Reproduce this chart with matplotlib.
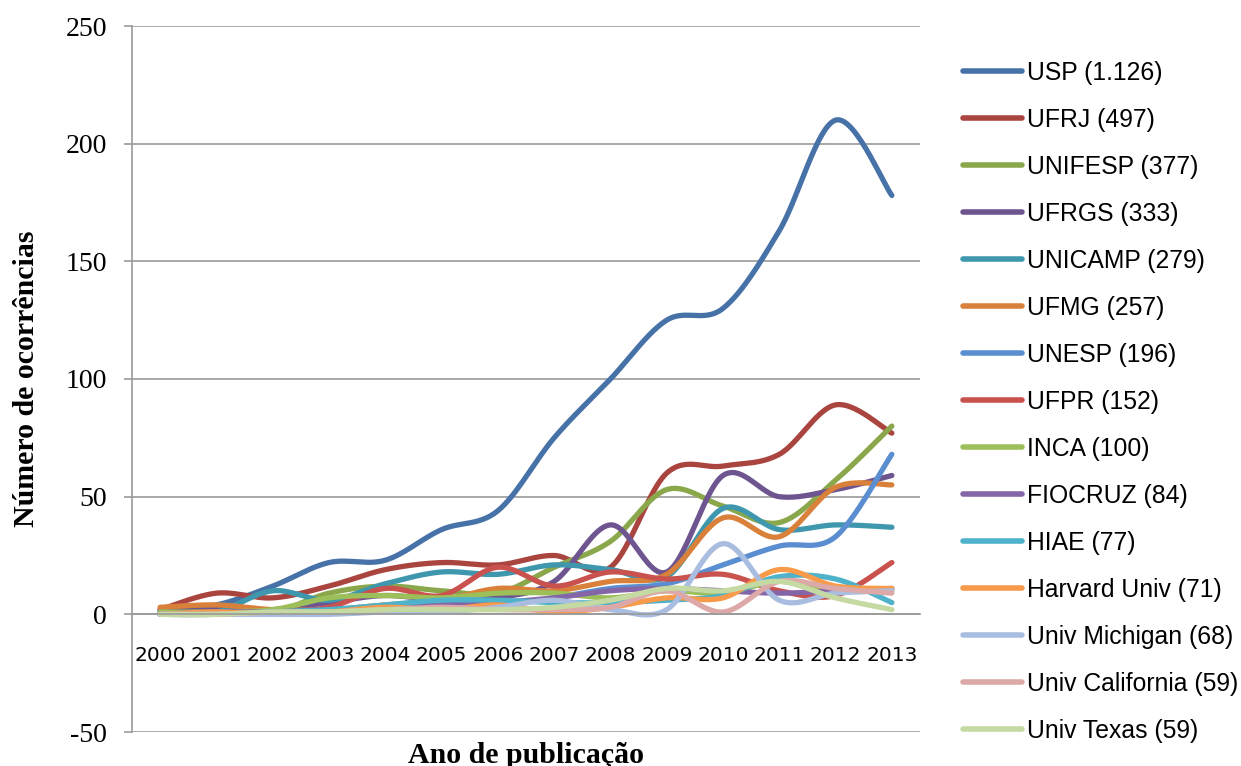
import numpy as np
import matplotlib
matplotlib.use("Agg")
import matplotlib.pyplot as plt

years = ["2000", "2001", "2002", "2003", "2004", "2005", "2006",
         "2007", "2008", "2009", "2010", "2011", "2012", "2013"]

labels = ["USP (1.126)", "UFRJ (497)", "UNIFESP (377)", "UFRGS (333)",
          "UNICAMP (279)", "UFMG (257)", "UNESP (196)", "UFPR (152)",
          "INCA (100)", "FIOCRUZ (84)", "HIAE (77)", "Harvard Univ (71)",
          "Univ Michigan (68)", "Univ California (59)", "Univ Texas (59)"]

usp        = [2, 4, 12, 22, 23, 36, 44, 75, 100, 125, 130, 163, 210, 178]
ufrj       = [2, 9, 7, 12, 19, 22, 21, 25, 20, 60, 63, 68, 89, 77]
unifesp    = [1, 2, 1, 9, 12, 10, 9, 20, 31, 53, 46, 39, 57, 80]
ufrgs      = [1, 2, 2, 5, 8, 6, 7, 14, 38, 18, 59, 50, 53, 59]
unicamp    = [0, 1, 10, 6, 13, 18, 17, 21, 19, 16, 45, 36, 38, 37]
ufmg       = [3, 4, 2, 2, 4, 6, 11, 10, 14, 17, 41, 33, 54, 55]
unesp      = [0, 0, 1, 2, 3, 5, 4, 7, 11, 13, 21, 29, 33, 68]
ufpr       = [0, 1, 1, 3, 11, 8, 20, 12, 18, 15, 17, 10, 8, 22]
inca       = [1, 1, 2, 7, 8, 7, 9, 9, 7, 10, 9, 14, 10, 10]
fiocruz    = [0, 1, 1, 2, 3, 4, 5, 7, 10, 11, 10, 9, 10, 11]
hiae       = [0, 0, 1, 2, 4, 6, 6, 5, 5, 6, 8, 16, 15, 5]
harvard    = [0, 1, 0, 1, 3, 2, 4, 1, 3, 7, 7, 19, 12, 11]
michigan   = [0, 0, 0, 0, 1, 1, 3, 6, 2, 2, 30, 6, 9, 10]
california = [0, 0, 1, 1, 2, 3, 2, 2, 3, 10, 1, 14, 11, 9]
texas      = [0, 0, 1, 1, 2, 2, 2, 3, 6, 11, 10, 14, 7, 2]

series = [usp, ufrj, unifesp, ufrgs, unicamp, ufmg, unesp, ufpr,
          inca, fiocruz, hiae, harvard, michigan, california, texas]

colors = ["#4672A8", "#A9443F", "#8AA84B", "#6F5590", "#3E97AD", "#D9813A",
          "#5A8ED0", "#C9524F", "#9DBF5A", "#8466A8", "#4DB2CA", "#F79A4A",
          "#A9BDE0", "#DDA9A8", "#C5D9A3"]


def smooth(y, n=30):
    """Catmull-Rom smoothing (Excel-style smoothed line) through the points."""
    y = np.asarray(y, dtype=float)
    x = np.arange(len(y), dtype=float)
    px = np.concatenate([[x[0]], x, [x[-1]]])
    py = np.concatenate([[y[0]], y, [y[-1]]])
    xs, ys = [], []
    for i in range(1, len(px) - 2):
        p0x, p1x, p2x, p3x = px[i - 1], px[i], px[i + 1], px[i + 2]
        p0y, p1y, p2y, p3y = py[i - 1], py[i], py[i + 1], py[i + 2]
        t = np.linspace(0, 1, n, endpoint=(i == len(px) - 3))
        c1x = p1x + (p2x - p0x) / 6.0
        c1y = p1y + (p2y - p0y) / 6.0
        c2x = p2x - (p3x - p1x) / 6.0
        c2y = p2y - (p3y - p1y) / 6.0
        bx = ((1 - t) ** 3) * p1x + 3 * ((1 - t) ** 2) * t * c1x + 3 * (1 - t) * t ** 2 * c2x + t ** 3 * p2x
        by = ((1 - t) ** 3) * p1y + 3 * ((1 - t) ** 2) * t * c1y + 3 * (1 - t) * t ** 2 * c2y + t ** 3 * p2y
        xs.append(bx)
        ys.append(by)
    return np.concatenate(xs), np.concatenate(ys)


fig = plt.figure(figsize=(12.41, 7.66), dpi=100)
ax = fig.add_axes([132 / 1241, 1 - 732 / 766, (920 - 132) / 1241, (732 - 26) / 766])

handles = []
for vals, lab, col in zip(series, labels, colors):
    sx, sy = smooth(vals)
    h, = ax.plot(sx, sy, color=col, lw=3.8, solid_capstyle="round", label=lab)
    handles.append(h)

for s in ["top", "right"]:
    ax.spines[s].set_visible(False)
ax.spines["left"].set_color("#9A9A9A")
ax.spines["left"].set_linewidth(1.2)
ax.spines["bottom"].set_position(("data", 0))
ax.spines["bottom"].set_color("#9A9A9A")
ax.spines["bottom"].set_linewidth(1.2)

ax.set_xlim(-0.5, len(years) - 0.5)
ax.set_ylim(-50, 250)
ax.set_yticks(np.arange(-50, 251, 50))
ax.set_yticklabels([str(v) for v in range(-50, 251, 50)],
                   fontfamily="Liberation Serif", fontsize=20)
ax.set_xticks(np.arange(len(years)))
ax.set_xticklabels(years, fontfamily="DejaVu Sans", fontsize=14.5)

ax.grid(axis="y", color="#9A9A9A", lw=1.2)
ax.set_axisbelow(True)
ax.tick_params(axis="x", length=0, pad=23)
ax.tick_params(axis="y", length=6, width=1.2, color="#9A9A9A", pad=12)

ax.set_ylabel("Número de ocorrências", fontfamily="Liberation Serif",
              fontweight="bold", fontsize=21.5)
ax.yaxis.set_label_coords(-0.117, 0.5)
ax.set_xlabel("Ano de publicação", fontfamily="Liberation Serif",
              fontweight="bold", fontsize=21.5)
ax.xaxis.set_label_coords(0.5, -0.014)

leg = fig.legend(handles=handles, loc="center left",
                 bbox_to_anchor=(963 / 1241, 1 - 402 / 766),
                 bbox_transform=fig.transFigure, frameon=False,
                 prop={"family": "Liberation Sans", "size": 17.8},
                 handlelength=2.4, handletextpad=0.2, labelspacing=0.93,
                 borderpad=0, borderaxespad=0)
for line in leg.get_lines():
    line.set_linewidth(4)

fig.savefig("out.png", dpi=100)
